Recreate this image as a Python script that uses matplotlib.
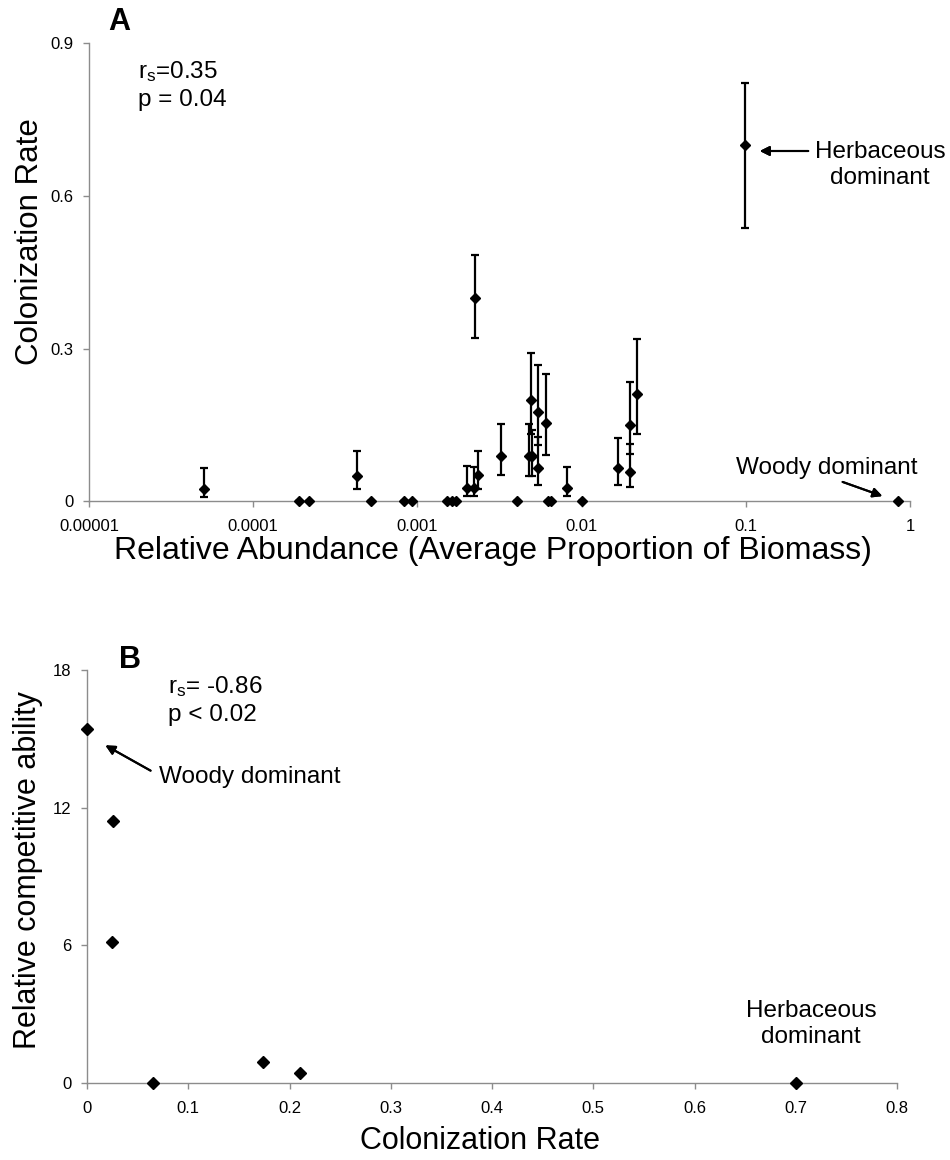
import numpy as np
import matplotlib
matplotlib.use("Agg")
import matplotlib.pyplot as plt
from matplotlib.ticker import FixedLocator, FixedFormatter, NullLocator

plt.rcParams['font.family'] = ['Liberation Sans', 'DejaVu Sans']
plt.rcParams['mathtext.fontset'] = 'custom'
plt.rcParams['mathtext.rm'] = 'Liberation Sans'
plt.rcParams['mathtext.it'] = 'Liberation Sans'

# datos panel A: abundancia relativa vs tasa de colonizacion
abund = [5.0e-5, 1.89e-4, 2.18e-4, 4.3e-4, 5.23e-4, 8.26e-4, 9.23e-4,
         1.51e-3, 1.62e-3, 1.73e-3, 2.0e-3, 2.2e-3, 2.24e-3, 2.33e-3,
         3.25e-3, 4.04e-3, 4.75e-3, 4.95e-3, 5.0e-3, 5.39e-3, 5.39e-3,
         6.11e-3, 6.28e-3, 6.55e-3, 8.2e-3, 1.01e-2, 1.66e-2, 1.96e-2,
         1.96e-2, 2.18e-2, 0.099, 0.84]
colon = [0.025, 0, 0, 0.050, 0, 0, 0,
         0, 0, 0, 0.027, 0.027, 0.400, 0.051,
         0.089, 0, 0.089, 0.200, 0.089, 0.175, 0.066,
         0.154, 0, 0, 0.027, 0, 0.065, 0.150,
         0.058, 0.211, 0.700, 0]
ci_low = [0.009, 0, 0, 0.025, 0, 0, 0,
          0, 0, 0, 0.010, 0.010, 0.320, 0.025,
          0.051, 0, 0.050, 0.132, 0.050, 0.110, 0.033,
          0.091, 0, 0, 0.011, 0, 0.033, 0.093,
          0.028, 0.133, 0.537, 0]
ci_high = [0.066, 0, 0, 0.098, 0, 0, 0,
           0, 0, 0, 0.069, 0.068, 0.484, 0.098,
           0.151, 0, 0.151, 0.292, 0.140, 0.268, 0.126,
           0.251, 0, 0, 0.068, 0, 0.125, 0.235,
           0.113, 0.319, 0.822, 0]

# datos panel B: tasa de colonizacion vs habilidad competitiva
colon_b = [0.0, 0.026, 0.025, 0.065, 0.174, 0.210, 0.700]
compet_b = [15.4, 11.4, 6.13, 0.03, 0.92, 0.45, 0.0]

W, H = 950, 1160
fig = plt.figure(figsize=(W / 100, H / 100), dpi=100)

def fx(px):
    return px / W

def fy(py):
    return 1 - py / H

def flecha(x0, y0, x1, y1):
    # flecha de (x0,y0) a (x1,y1) en pixeles de la imagen
    fig.add_artist(plt.annotate('', xy=(fx(x1), fy(y1)), xytext=(fx(x0), fy(y0)),
                                xycoords='figure fraction', textcoords='figure fraction',
                                arrowprops=dict(arrowstyle='-|>', color='black', lw=1.5,
                                                mutation_scale=14)))

def estilo(ax):
    for s in ['top', 'right']:
        ax.spines[s].set_visible(False)
    for s in ['left', 'bottom']:
        ax.spines[s].set_color('#8c8c8c')
        ax.spines[s].set_linewidth(1.0)
    ax.tick_params(direction='out', length=4, width=1, color='#8c8c8c',
                   labelsize=12, labelcolor='black')
    ax.tick_params(axis='x', pad=9)
    ax.tick_params(axis='y', pad=7)

# ---------------- panel A ----------------
axA = fig.add_axes([fx(89), fy(501.3), fx(910 - 89), (501.3 - 43.3) / H])
axA.set_xscale('log')
y = np.array(colon)
err = [y - np.array(ci_low), np.array(ci_high) - y]
err[0][y == 0] = 0
err[1][y == 0] = 0
axA.errorbar(abund, colon, yerr=err, fmt='D', color='black', ms=5.5,
             ecolor='black', elinewidth=1.6, capsize=3, capthick=1.6,
             clip_on=False, zorder=3)
axA.set_xlim(1e-5, 1)
axA.set_ylim(0, 0.9)
xt = [1e-5, 1e-4, 1e-3, 1e-2, 1e-1, 1]
axA.xaxis.set_major_locator(FixedLocator(xt))
axA.xaxis.set_major_formatter(FixedFormatter(['0.00001', '0.0001', '0.001', '0.01', '0.1', '1']))
axA.xaxis.set_minor_locator(NullLocator())
axA.set_yticks([0, 0.3, 0.6, 0.9])
axA.set_yticklabels(['0', '0.3', '0.6', '0.9'])
estilo(axA)

fig.text(fx(119), fy(22), 'A', fontsize=22, fontweight='bold', ha='center', va='center')
fig.text(fx(138), fy(72), r'r$_{\mathrm{s}}$=0.35', fontsize=17.5, ha='left', va='center')
fig.text(fx(138), fy(100), 'p = 0.04', fontsize=17.5, ha='left', va='center')
fig.text(fx(880), fy(165), 'Herbaceous\ndominant', fontsize=17.5, ha='center', va='center',
         multialignment='center')
flecha(811, 151, 757, 151)
fig.text(fx(827), fy(468), 'Woody dominant', fontsize=17.5, ha='center', va='center')
flecha(840, 481, 885, 497)
fig.text(fx(493), fy(551), 'Relative Abundance (Average Proportion of Biomass)',
         fontsize=23, ha='center', va='center')
fig.text(fx(30), fy(242), 'Colonization Rate', fontsize=22.5, rotation=90,
         ha='center', va='center')

# ---------------- panel B ----------------
axB = fig.add_axes([fx(87), fy(1083.3), fx(897 - 87), (1083.3 - 669.7) / H])
axB.plot(colon_b, compet_b, 'D', color='black', ms=6.5, clip_on=False, zorder=3)
axB.set_xlim(0, 0.8)
axB.set_ylim(0, 18)
axB.set_xticks(np.arange(0, 0.81, 0.1))
axB.set_xticklabels(['0', '0.1', '0.2', '0.3', '0.4', '0.5', '0.6', '0.7', '0.8'])
axB.set_yticks([0, 6, 12, 18])
estilo(axB)

fig.text(fx(130), fy(660), 'B', fontsize=22, fontweight='bold', ha='center', va='center')
fig.text(fx(168), fy(687), r'r$_{\mathrm{s}}$= -0.86', fontsize=17.5, ha='left', va='center')
fig.text(fx(168), fy(715), 'p < 0.02', fontsize=17.5, ha='left', va='center')
fig.text(fx(159), fy(777), 'Woody dominant', fontsize=17.5, ha='left', va='center')
flecha(153, 772, 103, 744)
fig.text(fx(811), fy(1024), 'Herbaceous\ndominant', fontsize=17.5, ha='center', va='center',
         multialignment='center')
fig.text(fx(480), fy(1141), 'Colonization Rate', fontsize=22, ha='center', va='center')
fig.text(fx(28), fy(870), 'Relative competitive ability', fontsize=22, rotation=90,
         ha='center', va='center')

fig.savefig('out.png', dpi=100, facecolor='white')
